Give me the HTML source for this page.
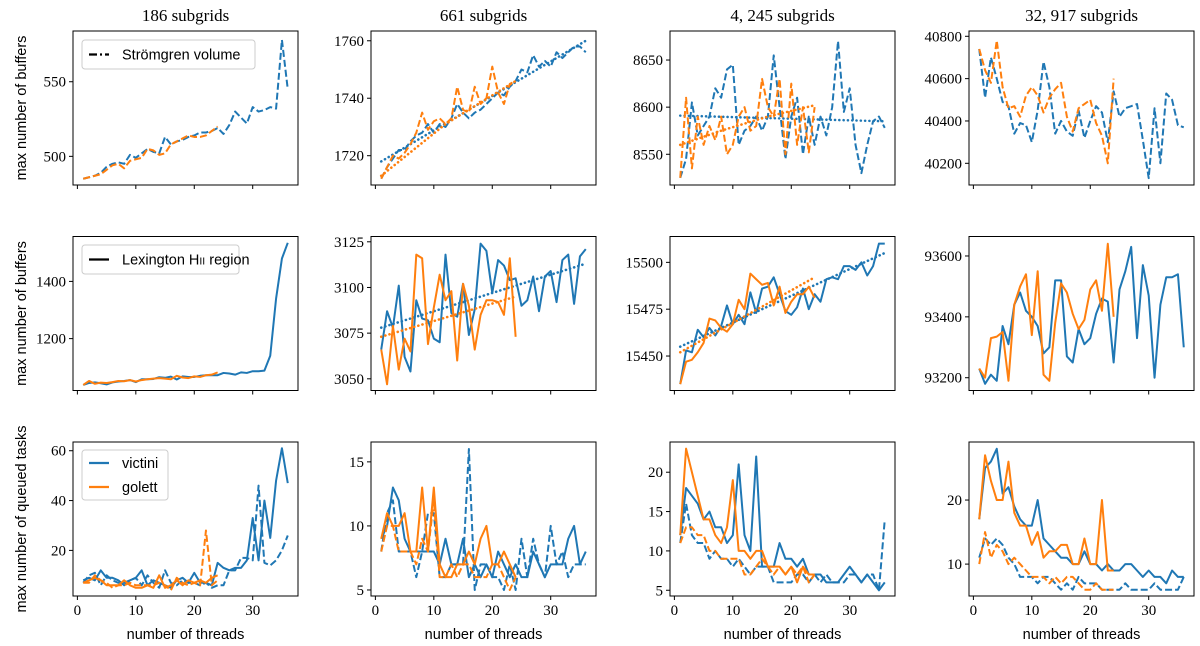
<!DOCTYPE html>
<html><head><meta charset="utf-8">
<style>
body{margin:0;background:#fff;}
svg{display:block;}
.tick{font-family:"Liberation Serif",serif;font-size:15px;fill:#000;}
.ttl{font-family:"Liberation Serif",serif;font-size:17px;fill:#000;}
.lab{font-family:"Liberation Sans",sans-serif;font-size:14.5px;fill:#000;}
</style></head>
<body>
<svg id="chart" width="1200" height="646" viewBox="0 0 1200 646" xmlns="http://www.w3.org/2000/svg"></svg>
<script>
// ---- data ----
const xTicks = [0, 10, 20, 30];
const colTitles = ["186 subgrids", "661 subgrids", "4, 245 subgrids", "32, 917 subgrids"];

const r1c1Blue = [485,486,487,489,493,495,496,495,501,499,502,505,503,502,513,508,510,511,513,514,516,516,517,519,515,521,530,526,522,533,530,531,533,532,578,545];
const r1c1Orange = [485,486,487,488,491,494,495,492,497,498,499,505,504,501,502,508,510,512,514,513,513,514,517,520];
const r1c2Blue = [1712,1716,1719,1722,1722,1725,1727,1728,1731,1728,1731,1730,1733,1738,1735,1733,1735,1736,1738,1740,1742,1741,1744,1746,1750,1749,1755,1751,1753,1751,1756,1754,1756,1758,1758,1756];
const r1c2Orange = [1712,1716,1720,1719,1721,1724,1728,1735,1729,1732,1733,1731,1733,1744,1736,1735,1744,1738,1740,1751,1742,1738,1745,1746];
const r1c2BlueFitX = [1,36], r1c2BlueFit = [1718,1760];
const r1c2OrangeFitX = [1,12,24], r1c2OrangeFit = [1713,1731,1746];
const r1c3Blue = [8525,8545,8605,8570,8580,8590,8620,8610,8640,8645,8560,8575,8580,8590,8575,8590,8655,8600,8545,8590,8610,8550,8590,8560,8590,8570,8600,8670,8595,8620,8560,8530,8560,8585,8590,8578];
const r1c3Orange = [8525,8610,8535,8590,8560,8580,8565,8590,8550,8560,8590,8600,8575,8580,8630,8600,8590,8630,8550,8625,8560,8600,8552,8600];
const r1c3BlueFitX = [1,36], r1c3BlueFit = [8591,8585];
const r1c3OrangeFitX = [1,8,16,24], r1c3OrangeFit = [8560,8575,8590,8602];
const r1c4Blue = [40740,40510,40700,40600,40490,40470,40340,40390,40380,40300,40450,40680,40560,40340,40400,40350,40330,40450,40320,40400,40470,40440,40300,40540,40420,40460,40470,40480,40310,40130,40460,40200,40530,40500,40380,40370];
const r1c4Orange = [40740,40640,40580,40780,40560,40460,40470,40420,40520,40560,40520,40440,40510,40550,40580,40420,40350,40460,40480,40500,40390,40330,40200,40600];

const r2c1Blue = [1038,1045,1047,1044,1040,1047,1050,1052,1055,1048,1058,1058,1059,1065,1063,1067,1057,1068,1066,1066,1070,1072,1072,1072,1080,1078,1074,1082,1080,1086,1086,1088,1140,1340,1480,1535];
const r2c1Orange = [1038,1052,1042,1046,1045,1048,1052,1051,1055,1050,1055,1058,1060,1062,1060,1058,1070,1064,1062,1068,1066,1072,1074,1082];
const r2c2Blue = [3066,3087,3078,3101,3062,3054,3093,3083,3082,3072,3070,3118,3086,3084,3102,3074,3088,3124,3120,3097,3115,3112,3104,3105,3090,3093,3106,3087,3106,3109,3092,3115,3118,3091,3117,3121];
const r2c2Orange = [3066,3047,3079,3055,3072,3065,3118,3116,3069,3089,3107,3093,3098,3060,3102,3090,3066,3085,3093,3093,3092,3085,3116,3073];
const r2c2BlueFitX = [1,36], r2c2BlueFit = [3078,3113];
const r2c2OrangeFitX = [1,24], r2c2OrangeFit = [3073,3095];
const r2c3Blue = [15435,15453,15452,15464,15460,15465,15461,15466,15477,15467,15472,15467,15484,15473,15486,15487,15492,15483,15474,15472,15476,15486,15475,15483,15479,15491,15492,15491,15498,15498,15496,15500,15493,15498,15510,15510];
const r2c3Orange = [15435,15447,15448,15452,15457,15470,15469,15465,15463,15467,15480,15475,15494,15491,15488,15489,15477,15487,15473,15479,15483,15483,15487,15481];
const r2c3BlueFitX = [1,36], r2c3BlueFit = [15455,15505];
const r2c3OrangeFitX = [1,24], r2c3OrangeFit = [15452,15492];
const r2c4Blue = [93230,93180,93210,93190,93370,93310,93440,93480,93420,93400,93370,93280,93300,93520,93520,93270,93250,93360,93310,93330,93410,93460,93450,93250,93490,93550,93630,93330,93570,93470,93200,93440,93530,93530,93540,93300];
const r2c4Orange = [93230,93200,93330,93335,93350,93190,93440,93500,93540,93340,93550,93210,93190,93380,93510,93480,93410,93360,93390,93490,93520,93420,93640,93400];

const r3c1BlueSolid = [8,9,8,12,9,9,8,6,8,9,12,6,8,7,6,5,8,9,7,11,7,7,6,15,13,12,13,13,16,33,16,40,25,48,61,47];
const r3c1BlueDash = [7,10,11,6,10,8,7,7,8,9,6,10,7,5,12,7,6,8,7,7,6,7,5,6,6,12,12,17,17,16,46,15,14,16,20,26];
const r3c1OrangeSolid = [7,8,9,8,6,6,6,8,6,5,5,6,5,10,5,6,8,6,8,7,8,7,9,10];
const r3c1OrangeDash = [7,7,10,8,7,5,6,6,7,6,6,6,6,7,6,4,9,7,6,7,6,28,6,8];
const r3c2BlueSolid = [9,10,13,12,9,8,8,8,8,8,7,9,7,7,9,6,7,6,7,6,8,7,6,7,6,6,8,7,6,7,7,7,9,10,7,8];
const r3c2BlueDash = [8,11,12,8,8,8,6,8,11,11,6,6,7,7,7,16,5,7,7,6,6,5,7,5,9,6,9,7,6,10,7,8,6,7,7,7];
const r3c2OrangeSolid = [9,11,10,10,11,8,8,13,8,13,7,6,6,7,7,8,7,9,10,7,7,8,7,6];
const r3c2OrangeDash = [8,10,10,8,8,8,7,9,8,12,6,6,7,6,7,7,6,6,6,7,7,6,5,6];
const r3c3BlueSolid = [12,18,17,16,14,15,13,13,11,12,21,12,10,22,8,8,8,11,9,9,8,9,7,7,7,6,6,6,7,8,7,6,7,6,5,6];
const r3c3BlueDash = [11,16,12,11,11,9,10,9,9,8,9,8,7,8,8,8,6,6,6,6,7,7,6,7,6,7,6,6,6,7,7,6,7,7,5,14];
const r3c3OrangeSolid = [12,23,20,17,14,14,12,11,13,19,10,10,9,10,10,8,8,8,7,8,6,8,7,7];
const r3c3OrangeDash = [11,13,13,12,12,10,10,9,9,9,9,7,7,8,9,8,7,8,7,8,7,8,6,7];
const r3c4BlueSolid = [17,25,26,28,21,22,19,17,16,16,20,14,13,12,11,11,10,10,12,10,10,9,10,9,9,10,10,9,8,9,8,8,7,9,8,8];
const r3c4BlueDash = [11,14,13,14,13,11,10,8,8,8,7,8,8,7,6,7,6,8,7,7,7,6,6,6,6,7,6,6,6,6,7,6,6,6,6,8];
const r3c4OrangeSolid = [17,27,23,20,20,26,18,16,16,13,15,11,12,12,13,13,10,10,14,10,10,20,9,9];
const r3c4OrangeDash = [10,15,11,13,12,10,11,10,9,8,8,8,7,8,7,8,8,7,6,6,7,6,6,6];

// ---- layout ----
const NS = "http://www.w3.org/2000/svg";
const svg = document.getElementById("chart");
const colLeft = [73, 371, 670, 969], rowTop = [31, 236.5, 442];
const PW = 225, PH = 154;
const XMIN = -0.75, XMAX = 37.75;
const BLUE = "#1f77b4", ORANGE = "#ff7f0e";
const DASH = "7,3", DOT = "0.1,4.2";

function mk(tag, attrs, parent) {
  const e = document.createElementNS(NS, tag);
  for (const k in attrs) e.setAttribute(k, attrs[k]);
  (parent || svg).appendChild(e);
  return e;
}
function seq(n) { const a = []; for (let i = 1; i <= n; i++) a.push(i); return a; }

const panels = [
  {r:0,c:0,dom:[480.8,584.0],ticks:[500,550],series:[[r1c1Blue,null,BLUE,DASH],[r1c1Orange,null,ORANGE,DASH]]},
  {r:0,c:1,dom:[1709.8,1763.4],ticks:[1720,1740,1760],series:[[r1c2Blue,null,BLUE,DASH],[r1c2BlueFit,r1c2BlueFitX,BLUE,DOT],[r1c2Orange,null,ORANGE,DASH],[r1c2OrangeFit,r1c2OrangeFitX,ORANGE,DOT]]},
  {r:0,c:2,dom:[8517.4,8680.8],ticks:[8550,8600,8650],series:[[r1c3Blue,null,BLUE,DASH],[r1c3BlueFit,r1c3BlueFitX,BLUE,DOT],[r1c3Orange,null,ORANGE,DASH],[r1c3OrangeFit,r1c3OrangeFitX,ORANGE,DOT]]},
  {r:0,c:3,dom:[40097.5,40825],ticks:[40200,40400,40600,40800],series:[[r1c4Blue,null,BLUE,DASH],[r1c4Orange,null,ORANGE,DASH]]},
  {r:1,c:0,dom:[1018.6,1557],ticks:[1200,1400],series:[[r2c1Blue,null,BLUE,null],[r2c1Orange,null,ORANGE,null]]},
  {r:1,c:1,dom:[3043.6,3127.9],ticks:[3050,3075,3100,3125],series:[[r2c2Blue,null,BLUE,null],[r2c2BlueFit,r2c2BlueFitX,BLUE,DOT],[r2c2Orange,null,ORANGE,null],[r2c2OrangeFit,r2c2OrangeFitX,ORANGE,DOT]]},
  {r:1,c:2,dom:[15431.6,15513.8],ticks:[15450,15475,15500],series:[[r2c3Blue,null,BLUE,null],[r2c3BlueFit,r2c3BlueFitX,BLUE,DOT],[r2c3Orange,null,ORANGE,null],[r2c3OrangeFit,r2c3OrangeFitX,ORANGE,DOT]]},
  {r:1,c:3,dom:[93158,93664],ticks:[93200,93400,93600],series:[[r2c4Blue,null,BLUE,null],[r2c4Orange,null,ORANGE,null]]},
  {r:2,c:0,dom:[1.7,63.5],ticks:[20,40,60],series:[[r3c1BlueSolid,null,BLUE,null],[r3c1BlueDash,null,BLUE,DASH],[r3c1OrangeSolid,null,ORANGE,null],[r3c1OrangeDash,null,ORANGE,DASH]]},
  {r:2,c:1,dom:[4.53,16.55],ticks:[5,10,15],series:[[r3c2BlueSolid,null,BLUE,null],[r3c2BlueDash,null,BLUE,DASH],[r3c2OrangeSolid,null,ORANGE,null],[r3c2OrangeDash,null,ORANGE,DASH]]},
  {r:2,c:2,dom:[4.27,23.84],ticks:[5,10,15,20],series:[[r3c3BlueSolid,null,BLUE,null],[r3c3BlueDash,null,BLUE,DASH],[r3c3OrangeSolid,null,ORANGE,null],[r3c3OrangeDash,null,ORANGE,DASH]]},
  {r:2,c:3,dom:[5.02,29.06],ticks:[10,20],series:[[r3c4BlueSolid,null,BLUE,null],[r3c4BlueDash,null,BLUE,DASH],[r3c4OrangeSolid,null,ORANGE,null],[r3c4OrangeDash,null,ORANGE,DASH]]}
];

panels.forEach(p => {
  const L = colLeft[p.c], T = rowTop[p.r];
  const xs = v => L + (v - XMIN) / (XMAX - XMIN) * PW;
  const ys = v => T + PH - (v - p.dom[0]) / (p.dom[1] - p.dom[0]) * PH;
  const g = mk("g", {});
  
  
  const cid = "clip" + p.r + p.c;
  const cp = mk("clipPath", {id: cid}, g);
  mk("rect", {x: L, y: T, width: PW, height: PH}, cp);
  const sg = mk("g", {"clip-path": "url(#" + cid + ")"}, g);
  p.series.forEach((s, si) => {
    const vals = s[0], xv = s[1] || seq(vals.length);
    const pts = vals.map((v, i) => xs(xv[i]).toFixed(2) + "," + ys(v).toFixed(2)).join(" ");
    const pl = mk("polyline", {points: pts, fill: "none", stroke: s[2], "stroke-width": 2, "stroke-linejoin": "round"}, sg);
    if (s[3]) pl.setAttribute("stroke-dasharray", s[3]);
    if (s[3] === DOT) { pl.setAttribute("stroke-linecap", "round"); pl.setAttribute("stroke-width", 2.6); }
    
    
  });
  const fr = mk("rect", {x: L, y: T, width: PW, height: PH, fill: "none", stroke: "#000", "stroke-width": 1}, g);
  
  
  p.ticks.forEach(t => {
    const y = ys(t);
    mk("line", {x1: L - 4, x2: L, y1: y, y2: y, stroke: "#000", "stroke-width": 1}, g);
    const tx = mk("text", {x: L - 7, y: y + 5, "text-anchor": "end", class: "tick"}, g);
    tx.textContent = t;
    
    
  });
  xTicks.forEach(t => {
    const x = xs(t);
    mk("line", {x1: x, x2: x, y1: T + PH, y2: T + PH + 4, stroke: "#000", "stroke-width": 1}, g);
    if (p.r === 2) {
      const tx = mk("text", {x: x, y: T + PH + 19, "text-anchor": "middle", class: "tick"}, g);
      tx.textContent = t;
      
      
    }
  });
  if (p.r === 2) {
    const xl = mk("text", {x: L + PW / 2, y: 639, "text-anchor": "middle", class: "lab"}, g);
    xl.textContent = "number of threads";
    
    
  }
  if (p.r === 0) {
    const tt = mk("text", {x: L + PW / 2, y: 21, "text-anchor": "middle", class: "ttl"}, g);
    tt.textContent = colTitles[p.c];
    
    
  }
});

[["max number of buffers", 0], ["max number of buffers", 1], ["max number of queued tasks", 2]].forEach(a => {
  const cy = rowTop[a[1]] + PH / 2;
  const t = mk("text", {x: 0, y: 0, transform: "translate(26," + cy + ") rotate(-90)", "text-anchor": "middle", class: "lab"});
  t.textContent = a[0];
  
  
});

function legendBox(x, y, w, h, name) {
  const r = mk("rect", {x: x, y: y, width: w, height: h, rx: 3, fill: "#fff", "fill-opacity": 0.85, stroke: "#ccc", "stroke-width": 1});
  
  
}
function legendEntry(x, y, color, dash, label, name) {
  const l = mk("line", {x1: x, x2: x + 20, y1: y, y2: y, stroke: color, "stroke-width": 2.2});
  if (dash) l.setAttribute("stroke-dasharray", dash);
  
  
  const t = mk("text", {x: x + 33, y: y + 5, class: "lab"});
  t.innerHTML = label;
  
  
}
legendBox(82, 40, 173, 29, "legend-stromgren");
legendEntry(89, 54.5, "#000", "8,3,2,3", "Strömgren volume", "legend-entry-stromgren");
legendBox(82, 245, 157, 29, "legend-lexington");
legendEntry(89, 259.5, "#000", null, 'Lexington H<tspan font-size="10.5">II</tspan> region', "legend-entry-lexington");
legendBox(82, 450, 86, 50, "legend-machines");
legendEntry(89, 463, BLUE, null, "victini", "legend-entry-victini");
legendEntry(89, 487, ORANGE, null, "golett", "legend-entry-golett");
</script>
</body></html>
